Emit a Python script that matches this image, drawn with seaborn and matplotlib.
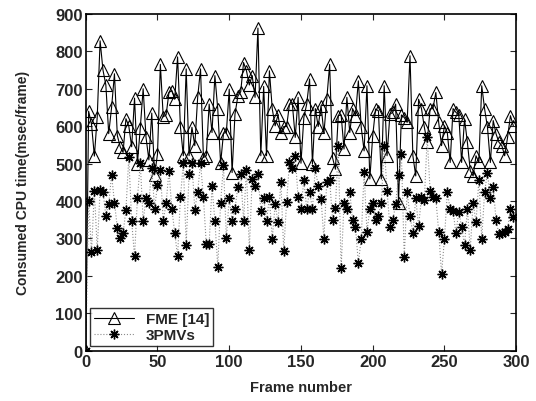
import numpy as np
import pandas as pd
import seaborn as sns
import matplotlib.pyplot as plt

# frame numbers (one sample every 2 frames)
frames = list(range(0, 300, 2))

fme = [
    0, 640, 605, 520, 625, 828, 750, 710, 580, 650,
    740, 575, 545, 530, 620, 600, 545, 675, 500, 595,
    700, 570, 510, 635, 470, 525, 765, 625, 630, 690,
    695, 672, 785, 597, 521, 753, 521, 597, 548, 677,
    753, 516, 521,
    659, 583, 735, 646, 501, 581, 583, 699, 476, 632,
    680, 692, 770, 748, 710, 735, 677, 862, 521, 706,
    521, 748,
    646, 601, 630, 583, 599, 599, 659, 659, 570, 677,
    501, 623, 659, 726, 499, 647, 599, 655, 581, 672,
    765,
    516, 485, 628, 630, 539, 677, 583, 647, 628, 721,
    597, 534, 708, 459, 574, 646, 641, 459,
    708, 521, 632, 637, 659, 396, 630, 623, 610, 788,
    521, 467, 672, 647, 597, 557, 646, 647, 690, 610,
    548, 601, 583, 503, 647, 637, 630, 503, 619, 557,
    481, 467, 521, 503, 708, 646, 597, 503, 615, 579,
    557, 548, 521, 570, 628, 601,
]

pmv3 = [
    0, 400, 263, 428, 270, 430, 425, 361, 392, 470,
    396, 329, 300, 314, 376, 517, 346, 252, 407, 502,
    346, 407, 396, 488, 380, 444, 482, 347, 394, 480,
    379, 315, 252, 410, 502, 283, 471, 502, 377, 425,
    502, 410, 285, 285, 439, 347, 225, 396, 496, 300,
    407, 347, 379, 437, 472, 347, 484, 270, 459, 441,
    472, 374, 407, 347, 410,
    299, 392, 343, 452, 267, 398, 504, 488, 521, 410,
    379, 455, 379, 425, 379, 487, 441, 406, 299, 452,
    457,
    350, 381, 548, 220, 395, 379, 425, 348, 330, 234,
    299, 477, 318, 379, 395, 348, 361, 395,
    548, 428, 330, 348, 392, 470, 526, 250, 425, 359,
    315, 408, 332, 410, 404, 570, 428, 410, 407, 318,
    205, 299, 423, 379, 374, 314, 372, 330, 282, 379,
    270, 396, 343, 457, 299, 425, 475, 407, 437, 348,
    312, 315, 318, 325, 379, 356,
]

labels = ["FME [14]", "3PMVs"]

df = pd.DataFrame({"frame": frames, "fme": fme, "pmv3": pmv3})

sns.set_style("ticks")
plt.rcParams['font.family'] = ['Liberation Sans', 'DejaVu Sans']
plt.rcParams['font.weight'] = 'bold'

fig = plt.figure(figsize=(5.36, 4.02), dpi=100)
ax = fig.add_axes([0.160, 0.125, 0.803, 0.838])

sns.lineplot(data=df, x="frame", y="fme", ax=ax, color="black", linewidth=0.8,
             marker="^", markersize=8, markerfacecolor="none",
             markeredgecolor="black", markeredgewidth=0.8, label=labels[0])
sns.lineplot(data=df, x="frame", y="pmv3", ax=ax, color="0.55", linewidth=0.8,
             linestyle=":", marker=(8, 2, 0), markersize=7,
             markeredgecolor="black", markeredgewidth=1.0, label=labels[1])

ax.set_xlim(0, 300)
ax.set_ylim(0, 900)
ax.set_xticks(range(0, 301, 50))
ax.set_yticks(range(0, 901, 100))
ax.tick_params(direction="in", top=True, right=True, labelsize=12,
               length=4, width=0.8, pad=2)
for lab in ax.get_xticklabels() + ax.get_yticklabels():
    lab.set_fontweight("bold")

for _, spine in ax.spines.items():
    spine.set_visible(True)
    spine.set_linewidth(1.2)
    spine.set_edgecolor("black")

ax.set_xlabel("Frame number", fontsize=10.5, fontweight="bold", labelpad=8)
ax.set_ylabel("Consumed CPU time(msec/frame)", fontsize=10, fontweight="bold", labelpad=18)

leg = ax.legend(loc="lower left", fontsize=11, frameon=True, fancybox=False,
                borderaxespad=0.3, handlelength=2.6, borderpad=0.25,
                labelspacing=0.15)
leg.get_frame().set_edgecolor("black")
leg.get_frame().set_linewidth(1.0)
for t in leg.get_texts():
    t.set_fontweight("bold")

plt.savefig("out.png", dpi=100)
